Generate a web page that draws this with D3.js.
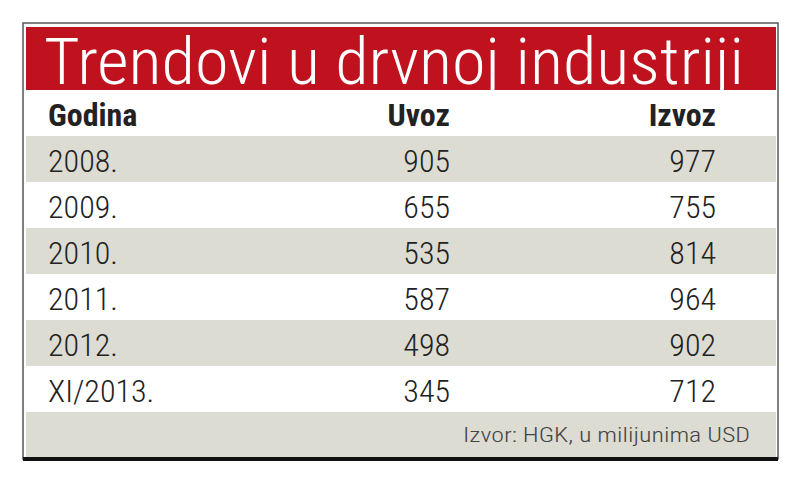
<!DOCTYPE html>
<html><head><meta charset="utf-8">
<script src="https://cdn.jsdelivr.net/npm/d3@7"></script>
<style>body{margin:0;background:#fff}</style>
</head><body>
<div class="chart"></div>
<script>
var title = "Trendovi u drvnoj industriji";
var columns = ["Godina", "Uvoz", "Izvoz"];
var years = ["2008.", "2009.", "2010.", "2011.", "2012.", "XI/2013."];
var uvoz = [905, 655, 535, 587, 498, 345];
var izvoz = [977, 755, 814, 964, 902, 712];
var source = "Izvor: HGK, u milijunima USD";

var font = "'Liberation Sans Narrow', 'Roboto Condensed', 'DejaVu Sans Condensed', sans-serif";
var svg = d3.select('.chart').append('svg').attr('width', 800).attr('height', 480);

// frame
svg.append('rect').attr('x', 23).attr('y', 23).attr('width', 755).attr('height', 436)
    .style('fill', '#fff').style('stroke', '#555').style('stroke-width', 1.5);
svg.append('rect').attr('x', 26).attr('y', 27).attr('width', 750).attr('height', 63).style('fill', '#c0111f');
svg.append('text').attr('x', 44).attr('y', 84).text(title)
    .attr('textLength', 700).attr('lengthAdjust', 'spacingAndGlyphs')
    .style('font-family', font).style('font-size', '64px').style('font-weight', 300).style('fill', '#fff');

var rowScale = d3.scaleBand().domain(d3.range(-1, years.length + 1)).range([90, 458]);
var colX = [48, 450, 716];

svg.selectAll('.band').data(d3.range(-1, years.length + 1)).enter().append('rect')
    .attr('x', 26).attr('width', 750)
    .attr('y', d => rowScale(d)).attr('height', rowScale.bandwidth())
    .style('fill', d => (d >= 0 && d % 2 === 0) || d === years.length ? '#dcdcd2' : '#fff');

svg.selectAll('.hdr').data(columns).enter().append('text')
    .attr('x', (d, i) => colX[i]).attr('y', rowScale(-1) + 36)
    .attr('text-anchor', (d, i) => i ? 'end' : 'start')
    .style('font-family', font).style('font-weight', 'bold').style('font-size', '32px').style('fill', '#222')
    .text(d => d);

var rows = years.map((y, i) => [y, uvoz[i], izvoz[i]]);
rows.forEach(function (r, ri) {
  svg.selectAll('.c' + ri).data(r).enter().append('text')
    .attr('x', (d, i) => colX[i]).attr('y', rowScale(ri) + 36)
    .attr('text-anchor', (d, i) => i ? 'end' : 'start')
    .style('font-family', font).style('font-size', '32px').style('font-weight', 300).style('fill', '#222')
    .text(d => d);
});

svg.append('text').attr('x', 750).attr('y', rowScale(years.length) + 30).attr('text-anchor', 'end')
    .attr('textLength', 287).attr('lengthAdjust', 'spacingAndGlyphs')
    .style('font-family', font).style('font-size', '20px').style('font-weight', 300).style('fill', '#444').text(source);

svg.append('line').attr('x1', 23).attr('x2', 778).attr('y1', 459).attr('y2', 459)
    .style('stroke', '#111').style('stroke-width', 4);
</script>
</body></html>
